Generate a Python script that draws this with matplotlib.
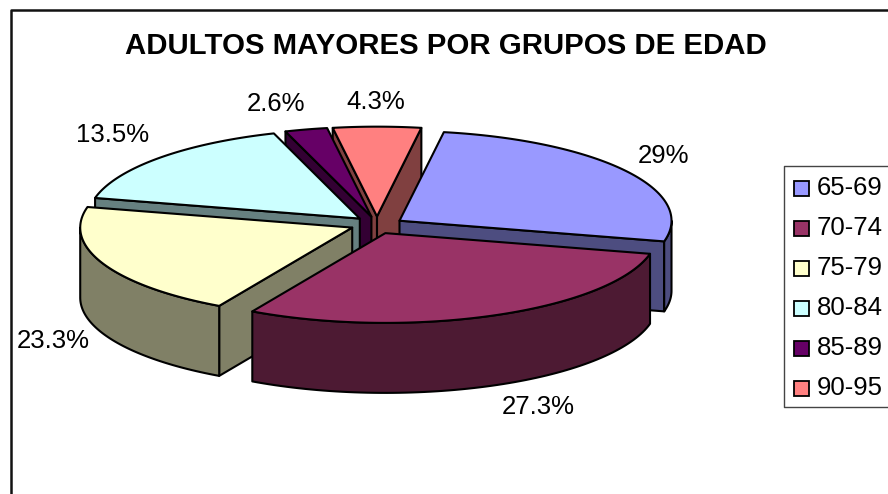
import numpy as np
import matplotlib
matplotlib.use('Agg')
import matplotlib.pyplot as plt
from matplotlib.patches import Polygon, Rectangle

plt.rcParams['font.family'] = ['Liberation Sans', 'DejaVu Sans']

# data
grupos = ['65-69', '70-74', '75-79', '80-84', '85-89', '90-95']
valores = [29, 27.3, 23.3, 13.5, 2.6, 4.3]
colores = ['#9999FF', '#993366', '#FFFFCC', '#CCFFFF', '#660066', '#FF8080']
oscuros = ['#4D4D80', '#4D1A33', '#808066', '#668080', '#330033', '#804040']
titulo = 'ADULTOS MAYORES POR GRUPOS DE EDAD'

# pie geometry (pixels)
CX, CY = 377, 225
R, K = 272, 0.33
DEPTH = 70
EXPLODE = 26
START = 7.75
LW = 1.5

# where the labels sit
pos_etiquetas = [(663, 156), (538, 407), (53, 341), (113, 135), (276, 104), (376, 102)]
draw_order = [5, 4, 3, 0, 2, 1]


def vista(a):
    # the original pie looks flatter towards its sides and wider at the back
    rad = np.radians(a)
    s, c = np.sin(rad), np.cos(rad)
    lado = np.where(s > 0, 12, 16)
    return a - lado * s ** 4 + 16 * s * c ** 30


def punto(t, ox, oy, r=R):
    rad = np.radians(t)
    return ox + r * np.sin(rad), oy - r * K * np.cos(rad)


fig = plt.figure(figsize=(8.88, 4.94), dpi=100)
ax = fig.add_axes([0, 0, 1, 1])
ax.set_xlim(0, 888)
ax.set_ylim(494, 0)
ax.axis('off')

# chart frame, open on the right and bottom
ax.plot([10.5, 10.5, 888], [494, 10.5, 10.5], color='#111111', lw=1.8, zorder=1)

bordes = START + np.cumsum([0] + valores) * 3.6
z = 2
for i in draw_order:
    a1, a2 = bordes[i], bordes[i + 1]
    t1, t2 = float(vista(a1)), float(vista(a2))
    mid = (a1 + a2) / 2
    ox, oy = punto(mid, CX, CY, EXPLODE)
    estilo = dict(edgecolor='black', lw=LW, joinstyle='round')

    # radial walls facing the viewer
    for t, visible in ((t1, 180 < t1 % 360 < 360), (t2, 0 < t2 % 360 < 180)):
        if visible:
            x, y = punto(t, ox, oy)
            pared = [(ox, oy), (x, y), (x, y + DEPTH), (ox, oy + DEPTH)]
            ax.add_patch(Polygon(pared, facecolor=oscuros[i], zorder=z, **estilo))
            z += 1

    # outer wall, only the front part of the arc
    lo, hi = max(t1, 90), min(t2, 270)
    if lo < hi:
        ts = np.linspace(lo, hi, 80)
        xs, ys = punto(ts, ox, oy)
        pared = np.r_[np.c_[xs, ys], np.c_[xs, ys + DEPTH][::-1]]
        ax.add_patch(Polygon(pared, facecolor=oscuros[i], zorder=z, **estilo))
        z += 1

    # top face
    ts = np.linspace(t1, t2, 120)
    xs, ys = punto(ts, ox, oy)
    cara = np.r_[[[ox, oy]], np.c_[xs, ys]]
    ax.add_patch(Polygon(cara, facecolor=colores[i], zorder=z, **estilo))
    z += 1

for v, (x, y) in zip(valores, pos_etiquetas):
    ax.text(x, y, f'{v:g}%', fontsize=18.5, ha='center', va='center', color='black', zorder=50)

ax.text(446, 46.5, titulo, fontsize=21.2, fontweight='bold', ha='center', va='center', color='black')

# legend
ax.plot([888, 783.5, 783.5, 888], [166, 166, 407, 407], color='#444444', lw=1.0, zorder=1)
for i, g in enumerate(grupos):
    yc = 188 + i * 40
    ax.add_patch(Rectangle((793.5, yc - 7.5), 15, 15, facecolor=colores[i], edgecolor='black', lw=1.3))
    ax.text(817, yc, g, fontsize=18.5, ha='left', va='center', color='black')

fig.savefig('out.png', dpi=100)
